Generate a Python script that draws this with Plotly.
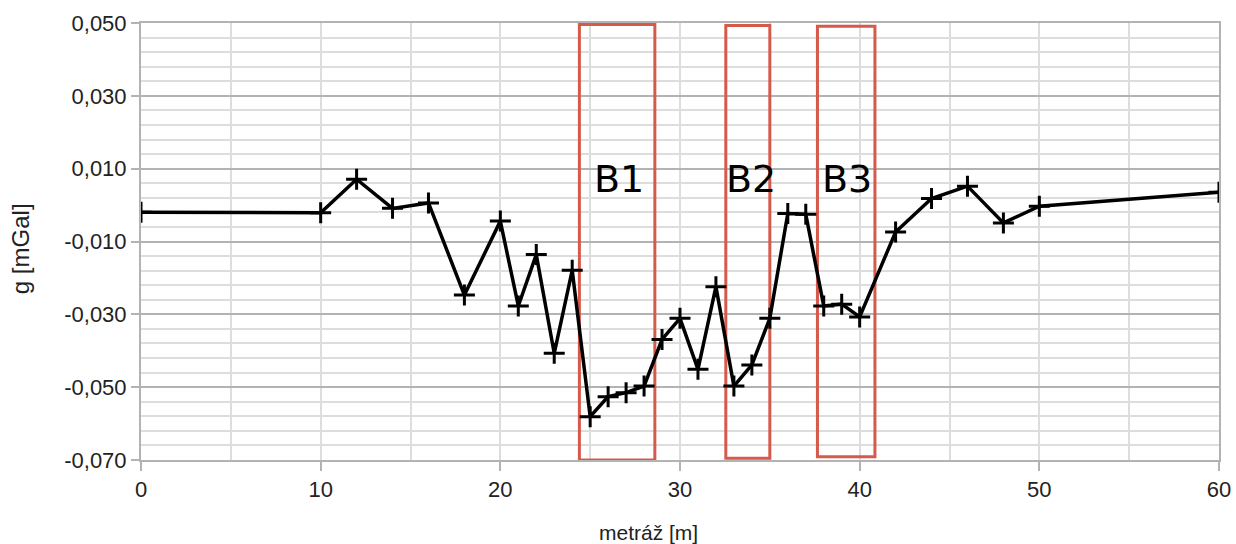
import plotly.graph_objects as go

# ---- data ----
metraz = [0, 10, 12, 14, 16, 18, 20, 21, 22, 23, 24, 25, 26, 27, 28, 29, 30,
          31, 32, 33, 34, 35, 36, 37, 38, 39, 40, 42, 44, 46, 48, 50, 60]
g_mgal = [-0.0020, -0.0021, 0.0071, -0.0009, 0.0006, -0.0247, -0.0044, -0.0277,
          -0.0136, -0.0407, -0.0179, -0.0581, -0.0526, -0.0515, -0.0497, -0.0369,
          -0.0311, -0.0451, -0.0224, -0.0497, -0.0439, -0.0311, -0.0023, -0.0025,
          -0.0277, -0.0272, -0.0307, -0.0074, 0.0018, 0.0052, -0.0049, -0.0003,
          0.0035]

box_labels = ["B1", "B2", "B3"]
box_x0 = [24.4, 32.55, 37.65]
box_x1 = [28.6, 35.0, 40.85]
box_y0 = [-0.0700, -0.0695, -0.0691]
box_y1 = [0.0496, 0.0493, 0.0491]
label_x = [26.6, 33.95, 39.3]
label_y = [0.0071, 0.0071, 0.0071]

x_tick_vals = [0, 10, 20, 30, 40, 50, 60]
x_tick_text = ["0", "10", "20", "30", "40", "50", "60"]
y_tick_vals = [0.050, 0.030, 0.010, -0.010, -0.030, -0.050, -0.070]
y_tick_text = ["0,050", "0,030", "0,010", "-0,010", "-0,030", "-0,050", "-0,070"]

# ---- figure ----
fig = go.Figure()
fig.add_trace(go.Scatter(
    x=metraz, y=g_mgal, mode="lines+markers",
    line=dict(color="black", width=3.5),
    marker=dict(symbol="cross-thin", size=15, line=dict(color="black", width=3)),
    showlegend=False, hoverinfo="x+y",
))

red = "#d65a4c"
for lab, x0, x1, y0, y1, lx, ly in zip(box_labels, box_x0, box_x1, box_y0, box_y1, label_x, label_y):
    fig.add_shape(type="rect", x0=x0, x1=x1, y0=y0, y1=y1, xref="x", yref="y",
                  line=dict(color=red, width=3), fillcolor="rgba(0,0,0,0)", layer="between")
    fig.add_annotation(x=lx, y=ly, xref="x", yref="y", text=lab, showarrow=False,
                       font=dict(family="DejaVu Sans", size=38, color="black"),
                       xanchor="center", yanchor="middle")

fig.add_annotation(x=0.4704, y=0, xref="paper", yref="paper", yshift=-72,
                   text="metráž [m]", showarrow=False, xanchor="center", yanchor="middle",
                   font=dict(family="Liberation Sans", size=21, color="#222"))
fig.add_annotation(x=0, y=0.4825, xref="paper", yref="paper", xshift=-121,
                   text="g [mGal]", showarrow=False, textangle=-90,
                   xanchor="center", yanchor="middle",
                   font=dict(family="Liberation Sans", size=24, color="#222"))

major = "#b3b3b3"
minor = "#dddddd"
fig.update_xaxes(
    range=[0, 60], tickmode="array", tickvals=x_tick_vals, ticktext=x_tick_text,
    showgrid=False, ticks="outside", ticklen=9, tickwidth=2, tickcolor=major,
    showline=True, linecolor=major, linewidth=2, mirror=True, zeroline=False,
    automargin=False,
    minor=dict(dtick=5, tick0=0, showgrid=True, gridcolor=minor, gridwidth=2, ticks=""),
    tickfont=dict(family="Liberation Sans", size=22, color="#222"),
)
fig.update_yaxes(
    range=[-0.070, 0.050], tickmode="array", tickvals=y_tick_vals, ticktext=y_tick_text,
    showgrid=True, gridcolor=major, gridwidth=2,
    ticks="outside", ticklen=8, tickwidth=2, tickcolor=major,
    showline=True, linecolor=major, linewidth=2, mirror=True, zeroline=False,
    automargin=False,
    minor=dict(dtick=0.004, tick0=-0.070, showgrid=True, gridcolor=minor, gridwidth=2, ticks=""),
    tickfont=dict(family="Liberation Sans", size=22, color="#222"),
)
fig.update_layout(
    width=1236, height=544,
    margin=dict(l=141, r=17, t=23, b=84),
    plot_bgcolor="white", paper_bgcolor="white",
)
fig.write_html("out.html")
